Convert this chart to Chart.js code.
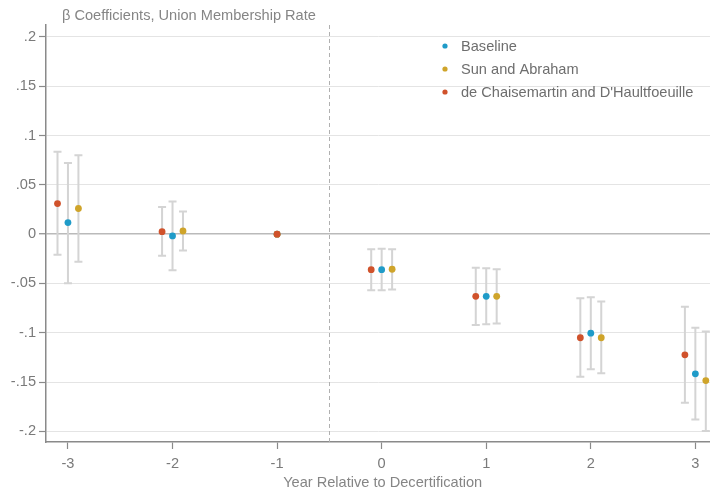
<!DOCTYPE html>
<html>
<head>
<meta charset="utf-8">
<title>Union Membership Rate Event Study</title>
<script src="https://cdn.jsdelivr.net/npm/chart.js@4.4.1/dist/chart.umd.min.js"></script>
<style>
  html, body { margin: 0; padding: 0; background: #ffffff; }
  #wrap { width: 710px; height: 494px; }
</style>
</head>
<body>
<div id="wrap"><canvas id="chart" width="710" height="494"></canvas></div>
<script>
// Event time relative to decertification (year -1 is the reference period)
const years = [-3, -2, -1, 0, 1, 2, 3];
const refYear = -1;

// Baseline estimates and 95% confidence bounds
const baselineCoef = [0.0117, -0.0018, 0, -0.036, -0.063, -0.1004, -0.1416];
const baselineLow  = [-0.0498, -0.0366, null, -0.057, -0.0913, -0.137, -0.188];
const baselineHigh = [0.072, 0.033, null, -0.0147, -0.0346, -0.064, -0.095];

// Sun and Abraham estimates
const sunAbrahamCoef = [0.026, 0.0032, 0, -0.0356, -0.063, -0.105, -0.1484];
const sunAbrahamLow  = [-0.028, -0.0167, null, -0.056, -0.0906, -0.141, -0.1995];
const sunAbrahamHigh = [0.080, 0.023, null, -0.0154, -0.0356, -0.0684, -0.0987];

// de Chaisemartin and D'Haultfoeuille estimates
const dcdhCoef = [0.031, 0.0025, 0, -0.036, -0.063, -0.105, -0.1223];
const dcdhLow  = [-0.021, -0.022, null, -0.057, -0.092, -0.1446, -0.171];
const dcdhHigh = [0.0835, 0.0275, null, -0.0154, -0.034, -0.065, -0.0737];

const seriesNames = ['Baseline', 'Sun and Abraham', "de Chaisemartin and D'Haultfoeuille"];
const yTickValues = [0.2, 0.15, 0.1, 0.05, 0, -0.05, -0.1, -0.15, -0.2];
const xTickValues = [-3, -2, -1, 0, 1, 2, 3];
const yTickLabels = ['.2', '.15', '.1', '.05', '0', '-.05', '-.1', '-.15', '-.2'];
const chartTitle = 'β Coefficients, Union Membership Rate';
const xAxisTitle = 'Year Relative to Decertification';

const colors = ['#1f9bc8', '#cfa42a', '#d0522b'];
const dodge = [0, 0.1, -0.1];
const FONT = "'Liberation Sans', Arial, sans-serif";
const TEXT_SIZE = 14.6;

function buildPoints(coef, low, high, shift) {
  return years.map((yr, i) => ({
    x: yr === refYear ? yr : yr + shift,
    y: coef[i],
    lo: low[i],
    hi: high[i]
  }));
}

const seriesData = [
  buildPoints(baselineCoef, baselineLow, baselineHigh, dodge[0]),
  buildPoints(sunAbrahamCoef, sunAbrahamLow, sunAbrahamHigh, dodge[1]),
  buildPoints(dcdhCoef, dcdhLow, dcdhHigh, dodge[2])
];

// Confidence intervals, the reference-period divider, titles and legend
const decorations = {
  id: 'decorations',
  beforeDatasetsDraw(chart) {
    const { ctx, chartArea, scales } = chart;
    const xs = scales.x, ys = scales.y;
    ctx.save();
    // dashed divider between pre and post periods
    const xd = Math.round(xs.getPixelForValue(-0.5)) + 0.5;
    ctx.strokeStyle = '#b0b0b0';
    ctx.lineWidth = 1;
    ctx.setLineDash([4, 3]);
    ctx.beginPath();
    ctx.moveTo(xd, chartArea.top);
    ctx.lineTo(xd, chartArea.bottom);
    ctx.stroke();
    ctx.setLineDash([]);
    // error bars
    ctx.strokeStyle = '#d4d4d4';
    ctx.lineWidth = 2;
    chart.data.datasets.forEach(ds => {
      ds.data.forEach(p => {
        if (p.lo === null || p.hi === null) return;
        const px = xs.getPixelForValue(p.x);
        const y1 = ys.getPixelForValue(p.hi);
        const y2 = ys.getPixelForValue(p.lo);
        ctx.beginPath();
        ctx.moveTo(px, y1); ctx.lineTo(px, y2);
        ctx.moveTo(px - 4, y1); ctx.lineTo(px + 4, y1);
        ctx.moveTo(px - 4, y2); ctx.lineTo(px + 4, y2);
        ctx.stroke();
      });
    });
    ctx.restore();
  },
  afterDraw(chart) {
    const { ctx, chartArea, scales } = chart;
    ctx.save();
    ctx.font = TEXT_SIZE + 'px ' + FONT;
    ctx.fillStyle = '#858585';
    ctx.textBaseline = 'alphabetic';
    ctx.textAlign = 'left';
    ctx.fillText(chartTitle, chartArea.left + 16, 20);
    // x axis title, centred over the event date
    ctx.textAlign = 'center';
    ctx.textBaseline = 'middle';
    ctx.fillText(xAxisTitle, scales.x.getPixelForValue(0) + 1, 483);
    // legend
    ctx.textAlign = 'left';
    const rows = [46, 69, 92];
    seriesNames.forEach((name, i) => {
      ctx.fillStyle = colors[i];
      ctx.beginPath();
      ctx.arc(445, rows[i], 2.6, 0, Math.PI * 2);
      ctx.fill();
      ctx.fillStyle = '#6e6e6e';
      ctx.fillText(name, 461, rows[i] + 1);
    });
    ctx.restore();
  }
};

new Chart(document.getElementById('chart'), {
  type: 'scatter',
  data: {
    datasets: seriesNames.map((name, i) => ({
      label: name,
      data: seriesData[i],
      backgroundColor: colors[i],
      borderColor: colors[i],
      pointRadius: 3.4,
      pointBorderWidth: 0,
      pointHoverRadius: 3.4,
      order: 2 - i
    }))
  },
  options: {
    responsive: false,
    devicePixelRatio: 1,
    animation: false,
    events: [],
    layout: { autoPadding: false, padding: { top: 25, right: 0, left: 0, bottom: 0 } },
    plugins: {
      legend: { display: false },
      title: { display: false },
      tooltip: { enabled: false }
    },
    scales: {
      x: {
        type: 'linear',
        min: -3.21,
        max: 3.14,
        afterFit(scale) { scale.height = 52; },
        afterBuildTicks(scale) { scale.ticks = xTickValues.map(v => ({ value: v })); },
        border: { display: true, color: '#8a8a8a', width: 1.5 },
        grid: { display: true, drawOnChartArea: false, drawTicks: true, tickLength: 7, tickColor: '#8a8a8a', tickWidth: 1.2 },
        ticks: {
          padding: 6,
          color: '#7a7a7a',
          font: { family: FONT, size: TEXT_SIZE },
          callback: v => String(v)
        },
        title: { display: false }
      },
      y: {
        type: 'linear',
        min: -0.2107,
        max: 0.212,
        afterFit(scale) { scale.width = 46; },
        afterBuildTicks(scale) { scale.ticks = yTickValues.map(v => ({ value: v })); },
        border: { display: true, color: '#8a8a8a', width: 1.5 },
        grid: {
          display: true,
          drawOnChartArea: true,
          drawTicks: true,
          tickLength: 7,
          color: ctx => (ctx.tick && ctx.tick.value === 0) ? '#bababa' : '#e4e4e4',
          lineWidth: ctx => (ctx.tick && ctx.tick.value === 0) ? 1.5 : 1,
          tickColor: '#8a8a8a',
          tickWidth: 1.2
        },
        ticks: {
          padding: 3,
          color: '#7a7a7a',
          font: { family: FONT, size: TEXT_SIZE },
          callback: (v, i) => yTickLabels[i]
        }
      }
    }
  },
  plugins: [decorations]
});
</script>
</body>
</html>
